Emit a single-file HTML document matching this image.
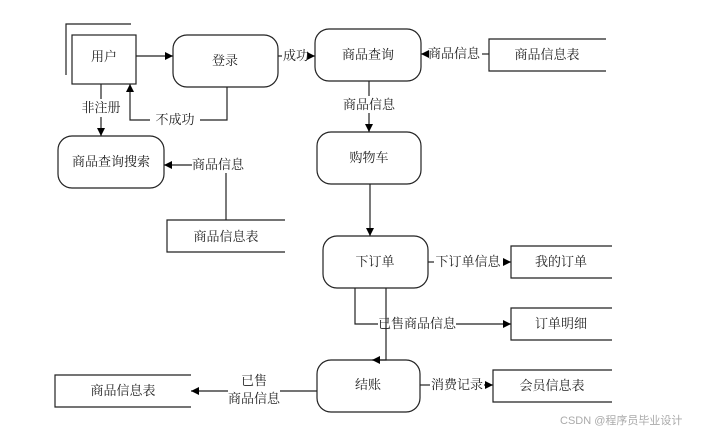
<!DOCTYPE html>
<html><head><meta charset="utf-8"><style>
html,body{margin:0;padding:0;background:#fff;}
svg{display:block;}
text{font-family:"Liberation Serif","Noto Serif CJK SC","Noto Sans CJK SC",serif;font-size:13px;fill:#222;}
</style></head><body>
<svg width="714" height="433" viewBox="0 0 714 433" xmlns="http://www.w3.org/2000/svg">
<defs><marker id="a" markerWidth="8" markerHeight="8" refX="8" refY="4" orient="auto" markerUnits="userSpaceOnUse"><path d="M0,0 L8,4 L0,8 z" fill="#000"/></marker></defs>
<g fill="none" stroke="#222" stroke-width="1.2">
<!-- user -->
<rect x="72" y="35" width="64" height="49"/>
<path d="M66,75 V24 H131"/>
<rect x="173" y="35" width="105" height="52" rx="14"/>
<rect x="315" y="29" width="106" height="52" rx="14"/>
<rect x="58" y="136" width="106" height="52" rx="14"/>
<rect x="317" y="132" width="104" height="52" rx="14"/>
<rect x="323" y="236" width="105" height="52" rx="14"/>
<rect x="317" y="360" width="103" height="52" rx="14"/>
<!-- tables -->
<path d="M606,39 H489 V71 H606"/>
<path d="M285,220 H167 V252 H285"/>
<path d="M612,246 H511 V278 H612"/>
<path d="M612,308 H511 V340 H612"/>
<path d="M612,370 H493 V402 H612"/>
<path d="M191,375 H55 V407 H191"/>
<!-- connectors -->
<line x1="136" y1="56" x2="173" y2="56" marker-end="url(#a)"/>
<line x1="278" y1="56" x2="282" y2="56"/>
<line x1="310" y1="56" x2="315" y2="56" marker-end="url(#a)"/>
<path d="M227,87 V120 H200"/><path d="M150,120 H130 V84" marker-end="url(#a)"/>
<line x1="101" y1="84" x2="101" y2="99"/><line x1="101" y1="117" x2="101" y2="136" marker-end="url(#a)"/>
<line x1="192" y1="165" x2="164" y2="165" marker-end="url(#a)"/>
<line x1="226" y1="173" x2="226" y2="220"/>
<line x1="489" y1="54" x2="482" y2="54"/>
<line x1="428" y1="54" x2="421" y2="54" marker-end="url(#a)"/>
<line x1="369" y1="81" x2="369" y2="96"/><line x1="369" y1="113" x2="369" y2="132" marker-end="url(#a)"/>
<line x1="370" y1="184" x2="370" y2="236" marker-end="url(#a)"/>
<line x1="428" y1="262" x2="434" y2="262"/><line x1="503" y1="262" x2="511" y2="262" marker-end="url(#a)"/>
<path d="M355,288 V324 H378"/><line x1="456" y1="324" x2="511" y2="324" marker-end="url(#a)"/>
<path d="M386,288 V360 H372" marker-end="url(#a)"/>
<line x1="420" y1="385" x2="430" y2="385"/><line x1="484" y1="385" x2="493" y2="385" marker-end="url(#a)"/>
<line x1="317" y1="391" x2="280" y2="391"/><line x1="228" y1="391" x2="191" y2="391" marker-end="url(#a)"/>
</g>
<g text-anchor="middle">
<text x="104" y="61">用户</text>
<text x="225" y="65">登录</text>
<text x="296" y="60">成功</text>
<text x="368" y="59">商品查询</text>
<text x="454" y="58">商品信息</text>
<text x="547" y="59">商品信息表</text>
<text x="101" y="112">非注册</text>
<text x="175" y="124">不成功</text>
<text x="111" y="166">商品查询搜索</text>
<text x="218" y="169">商品信息</text>
<text x="226" y="241">商品信息表</text>
<text x="369" y="109">商品信息</text>
<text x="369" y="162">购物车</text>
<text x="375" y="266">下订单</text>
<text x="468" y="266">下订单信息</text>
<text x="561" y="266">我的订单</text>
<text x="417" y="328">已售商品信息</text>
<text x="561" y="328">订单明细</text>
<text x="368" y="389">结账</text>
<text x="457" y="389">消费记录</text>
<text x="552" y="390">会员信息表</text>
<text x="254" y="385">已售</text>
<text x="254" y="403">商品信息</text>
<text x="123" y="395">商品信息表</text>
</g>
<text x="560" y="424" style="font-family:'Liberation Sans','Noto Sans CJK SC',sans-serif;font-size:11px;fill:#aaa">CSDN @程序员毕业设计</text>
</svg>
</body></html>
